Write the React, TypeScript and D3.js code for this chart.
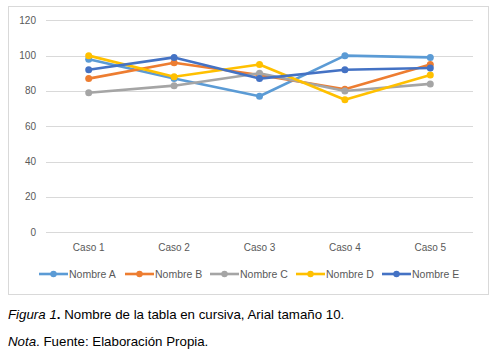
import React, { useRef, useEffect } from 'react';
import * as d3 from 'd3';

const categories = ['Caso 1', 'Caso 2', 'Caso 3', 'Caso 4', 'Caso 5'];
const seriesNames = ['Nombre A', 'Nombre B', 'Nombre C', 'Nombre D', 'Nombre E'];
const seriesColors = ['#5B9BD5', '#ED7D31', '#A5A5A5', '#FFC000', '#4472C4'];
const valuesA = [98, 87, 77, 100, 99];
const valuesB = [87, 96, 89, 81, 95];
const valuesC = [79, 83, 90, 80, 84];
const valuesD = [100, 88, 95, 75, 89];
const valuesE = [92, 99, 87, 92, 93];
const yTicks = [0, 20, 40, 60, 80, 100, 120];

const allValues = [valuesA, valuesB, valuesC, valuesD, valuesE];

const App = () => {
    const svgRef = useRef<SVGSVGElement>(null);

    useEffect(() => {
        const svg = d3.select(svgRef.current);
        svg.selectAll('*').remove();

        const chartFont = '"Liberation Sans", Arial, sans-serif';

        // chart frame
        svg.append('rect')
            .attr('x', 8.5).attr('y', 6.5)
            .attr('width', 480).attr('height', 288)
            .attr('fill', '#fff')
            .attr('stroke', '#d9d9d9');

        const plot = { left: 46, right: 473, top: 20.3, bottom: 232.3 };

        const x = d3.scaleBand()
            .domain(categories)
            .range([plot.left, plot.right]);
        const y = d3.scaleLinear()
            .domain([0, 120])
            .range([plot.bottom, plot.top]);

        // gridlines
        svg.append('g')
            .selectAll('line')
            .data(yTicks)
            .enter()
            .append('line')
            .attr('x1', plot.left).attr('x2', plot.right)
            .attr('y1', d => Math.round(y(d)) + 0.5)
            .attr('y2', d => Math.round(y(d)) + 0.5)
            .attr('stroke', '#d9d9d9');

        // y labels
        svg.append('g')
            .selectAll('text')
            .data(yTicks)
            .enter()
            .append('text')
            .attr('x', 36)
            .attr('y', d => y(d) + 3.5)
            .attr('text-anchor', 'end')
            .attr('font-family', chartFont)
            .attr('font-size', 10)
            .attr('fill', '#595959')
            .text(d => d);

        // x labels
        svg.append('g')
            .selectAll('text')
            .data(categories)
            .enter()
            .append('text')
            .attr('x', d => (x(d) as number) + x.bandwidth() / 2)
            .attr('y', 251)
            .attr('text-anchor', 'middle')
            .attr('font-family', chartFont)
            .attr('font-size', 10)
            .attr('fill', '#595959')
            .text(d => d);

        const line = d3.line<number>()
            .x((d, i) => (x(categories[i]) as number) + x.bandwidth() / 2)
            .y(d => y(d));

        allValues.forEach((vals, s) => {
            const g = svg.append('g');
            g.append('path')
                .datum(vals)
                .attr('d', line)
                .attr('fill', 'none')
                .attr('stroke', seriesColors[s])
                .attr('stroke-width', 2.6)
                .attr('stroke-linejoin', 'round')
                .attr('stroke-linecap', 'round');
            g.selectAll('circle')
                .data(vals)
                .enter()
                .append('circle')
                .attr('cx', (d, i) => (x(categories[i]) as number) + x.bandwidth() / 2)
                .attr('cy', d => y(d))
                .attr('r', 3.5)
                .attr('fill', seriesColors[s]);
        });

        // legend
        const legendX = [39, 125, 210, 296, 382];
        const legend = svg.append('g');
        seriesNames.forEach((name, s) => {
            const lx = legendX[s];
            legend.append('line')
                .attr('x1', lx).attr('x2', lx + 29)
                .attr('y1', 274).attr('y2', 274)
                .attr('stroke', seriesColors[s])
                .attr('stroke-width', 2.6);
            legend.append('circle')
                .attr('cx', lx + 14.5).attr('cy', 274)
                .attr('r', 3.2)
                .attr('fill', seriesColors[s]);
            legend.append('text')
                .attr('x', lx + 30)
                .attr('y', 277.5)
                .attr('font-family', chartFont)
                .attr('font-size', 10.5)
                .attr('fill', '#595959')
                .text(name);
        });

        // captions
        const cap1 = svg.append('text')
            .attr('x', 8).attr('y', 318.5)
            .attr('font-family', chartFont)
            .attr('font-size', 13.3)
            .attr('fill', '#000');
        cap1.append('tspan').attr('font-style', 'italic').text('Figura 1');
        cap1.append('tspan').attr('font-weight', 'bold').text('.');
        cap1.append('tspan').text(' Nombre de la tabla en cursiva, Arial tamaño 10.');

        const cap2 = svg.append('text')
            .attr('x', 8).attr('y', 345.5)
            .attr('font-family', chartFont)
            .attr('font-size', 13.3)
            .attr('fill', '#000');
        cap2.append('tspan').attr('font-style', 'italic').text('Nota');
        cap2.append('tspan').text('. Fuente: Elaboración Propia.');
    }, []);

    return (
        <svg ref={svgRef} width={501} height={354}
            style={{ position: 'absolute', left: 0, top: 0, background: '#fff' }} />
    );
};

export default App;
